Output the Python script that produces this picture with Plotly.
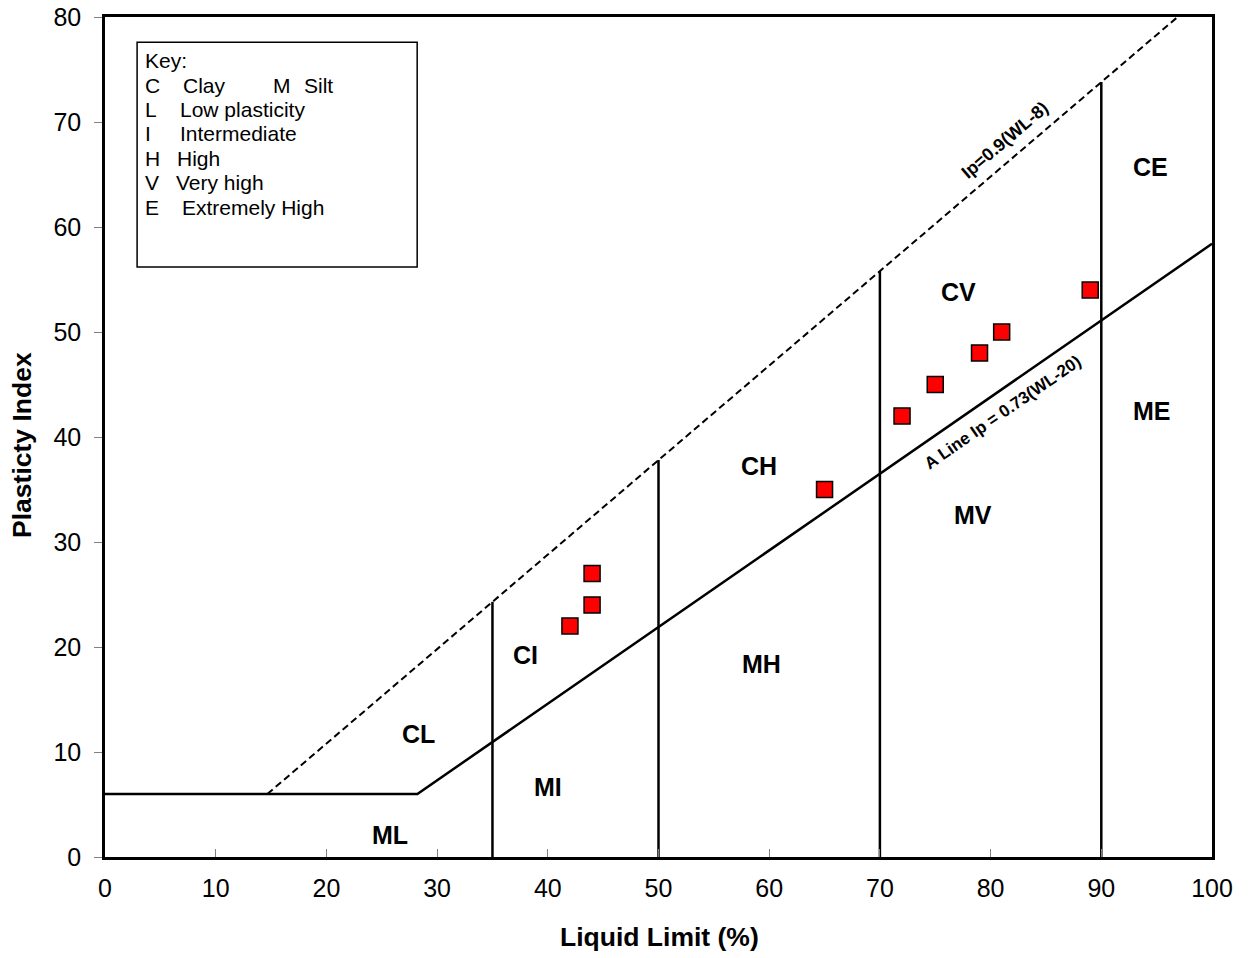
import plotly.graph_objects as go

# Sample data
liquid_limit = [42, 44, 44, 65, 72, 75, 79, 81, 89]
plasticity_index = [22, 24, 27, 35, 42, 45, 48, 50, 54]

# Chart boundaries
wl_bounds = [35, 50, 70, 90]
zone_names = ["CE", "CV", "CH", "ME", "MV", "MH", "CI", "CL", "MI", "ML"]
zone_x = [94.4, 77.1, 59.1, 94.6, 78.4, 59.3, 38.0, 28.3, 40.0, 25.7]
zone_y = [65.7, 53.8, 37.2, 42.5, 32.6, 18.4, 19.2, 11.7, 6.7, 2.1]

key_letters = ["C", "L", "I", "H", "V", "E"]
key_words = ["Clay", "Low plasticity", "Intermediate", "High", "Very high", "Extremely High"]

FONT = "Liberation Sans, Arial, sans-serif"

def a_line(w):
    return 0.73 * (w - 20)

def u_line(w):
    return 0.9 * (w - 8)

fig = go.Figure()

# A-line with horizontal segment at 6
wl_a0 = 20 + 6 / 0.73
fig.add_trace(go.Scatter(x=[0, wl_a0, 100], y=[6, 6, a_line(100)], mode="lines",
                         line=dict(color="black", width=2.5), showlegend=False, hoverinfo="skip"))
# U-line dashed
wl_u0 = 8 + 6 / 0.9
wl_u1 = 8 + 80 / 0.9
fig.add_trace(go.Scatter(x=[wl_u0, wl_u1], y=[6, 80], mode="lines",
                         line=dict(color="black", width=2, dash="7px,4px"), showlegend=False, hoverinfo="skip"))
# Vertical boundaries
for w in wl_bounds:
    fig.add_trace(go.Scatter(x=[w, w], y=[0, u_line(w)], mode="lines",
                             line=dict(color="black", width=2.5), showlegend=False, hoverinfo="skip"))

# Data points
fig.add_trace(go.Scatter(x=liquid_limit, y=plasticity_index, mode="markers",
                         marker=dict(symbol="square", size=16, color="#ff0000",
                                     line=dict(color="black", width=1.5)),
                         showlegend=False))

annotations = []
for n, x, y in zip(zone_names, zone_x, zone_y):
    annotations.append(dict(x=x, y=y, text="<b>%s</b>" % n, showarrow=False,
                            font=dict(family=FONT, size=25, color="black")))

annotations.append(dict(x=81.3, y=68.3, text="<b>Ip=0.9(WL-8)</b>", showarrow=False, textangle=-40.5,
                        font=dict(family=FONT, size=18, color="black")))
annotations.append(dict(x=81.1, y=42.3, text="<b>A Line Ip = 0.73(WL-20)</b>", showarrow=False, textangle=-34.7,
                        font=dict(family=FONT, size=17, color="black")))

# Axis titles
annotations.append(dict(xref="paper", yref="paper", x=0.5005, y=-0.0952, xanchor="center", yanchor="middle",
                        text="<b>Liquid Limit (%)</b>",
                        showarrow=False, font=dict(family=FONT, size=26.5, color="black")))
annotations.append(dict(xref="paper", yref="paper", x=-0.075, y=0.4905, xanchor="center", yanchor="middle",
                        text="<b>Plasticty Index</b>",
                        showarrow=False, textangle=-90, font=dict(family=FONT, size=26.5, color="black")))

# Key box
fig.add_shape(type="rect", xref="x", yref="y", x0=2.9, x1=28.2, y0=56.2, y1=77.6,
              line=dict(color="black", width=1.5), fillcolor="white", layer="below")
kx0 = 3.43
word_x = [6.87, 6.59, 6.59, 6.32, 6.23, 6.78]
line_px = [85, 109, 133, 158, 182, 207]
annotations.append(dict(x=kx0, y=80 - (60 - 17) / 10.5, text="Key:", showarrow=False, xanchor="left",
                        font=dict(family=FONT, size=21, color="black")))
for L, W, wx, py in zip(key_letters, key_words, word_x, line_px):
    yy = 80 - (py - 17) / 10.5
    annotations.append(dict(x=kx0, y=yy, text=L, showarrow=False, xanchor="left",
                            font=dict(family=FONT, size=21, color="black")))
    annotations.append(dict(x=wx, y=yy, text=W, showarrow=False, xanchor="left",
                            font=dict(family=FONT, size=21, color="black")))
yy = 80 - (85 - 17) / 10.5
annotations.append(dict(x=15.0, y=yy, text="M", showarrow=False, xanchor="left",
                        font=dict(family=FONT, size=21, color="black")))
annotations.append(dict(x=17.8, y=yy, text="Silt", showarrow=False, xanchor="left",
                        font=dict(family=FONT, size=21, color="black")))

fig.update_layout(
    width=1249, height=958,
    margin=dict(l=105, r=37, t=17, b=101),
    paper_bgcolor="white", plot_bgcolor="white",
    annotations=annotations,
    xaxis=dict(range=[0, 100], dtick=10, showgrid=False, zeroline=False, automargin=False,
               showline=True, linecolor="black", linewidth=2.5, mirror=True,
               ticks="inside", ticklen=8, tickcolor="gray", ticklabelstandoff=7,
               tickfont=dict(family=FONT, size=25, color="black")),
    yaxis=dict(range=[0, 80], dtick=10, showgrid=False, zeroline=False, automargin=False,
               showline=True, linecolor="black", linewidth=2.5, mirror=True,
               ticks="outside", ticklen=8, tickcolor="gray", ticklabelstandoff=8,
               tickfont=dict(family=FONT, size=25, color="black")),
)

fig.write_html("out.html")
